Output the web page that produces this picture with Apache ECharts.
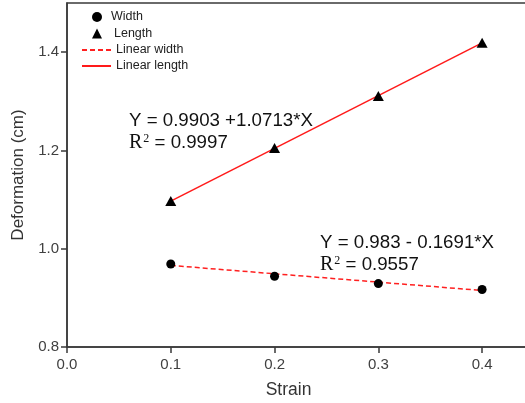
<!DOCTYPE html>
<html>
<head>
<meta charset="utf-8">
<script src="https://cdn.jsdelivr.net/npm/echarts@6/dist/echarts.min.js"></script>
<style>
  html, body { margin: 0; padding: 0; background: #fff; }
  #chart { width: 525px; height: 403px; }
</style>
</head>
<body>
<div id="chart"></div>
<script>
// measured points
const strain = [0.1, 0.2, 0.3, 0.4];
const widthVals = [0.969, 0.944, 0.929, 0.917];
const lengthVals = [1.097, 1.205, 1.311, 1.419];
// fitted lines at the end points
const fitX = [0.1, 0.4];
const widthFit = [0.966, 0.915];
const lengthFit = [1.097, 1.419];

const xTicks = [0, 0.1, 0.2, 0.3, 0.4];
const yTicks = [0.8, 1.0, 1.2, 1.4];

const pairs = (xs, ys) => xs.map((x, i) => [x, ys[i]]);

const chart = echarts.init(document.getElementById('chart'), null, { renderer: 'canvas' });

const axisCol = '#3a3a3a';
const labelCol = '#404040';
const font = 'Liberation Sans, Arial, sans-serif';
const legendText = { fontFamily: font, fontSize: 12.5, color: '#222', lineHeight: 16 };

// R² label: serif R with a raised 2, then the value in sans
const r2Rich = {
  r: { fontFamily: 'Liberation Serif, serif', fontSize: 20, fill: '#111', lineHeight: 22 },
  s: { fontFamily: 'Liberation Serif, serif', fontSize: 12, fill: '#111', lineHeight: 22, verticalAlign: 'top', padding: [1, 0, 0, 1] },
  n: { fontFamily: font, fontSize: 18.7, fill: '#111', lineHeight: 22 },
};

const option = {
  backgroundColor: '#fff',
  animation: false,
  grid: {
    left: 67, top: 3, width: 467, height: 344,
    outerBoundsMode: 'none',
    show: true, borderColor: axisCol, borderWidth: 1.5,
  },
  legend: [
    {
      // point markers
      orient: 'vertical',
      left: 92, top: 9, padding: 0,
      itemWidth: 10, itemHeight: 10, itemGap: 0.5,
      textStyle: Object.assign({ padding: [0, 0, 0, 4] }, legendText),
      data: [
        { name: 'Width', icon: 'circle', itemStyle: { color: '#000', opacity: 1 } },
        { name: 'Length', icon: 'triangle', itemStyle: { color: '#000', opacity: 1 },
          textStyle: { padding: [0, 0, 0, 7] } },
      ],
    },
    {
      // fit lines
      orient: 'vertical',
      left: 81, top: 42, padding: 0,
      itemWidth: 29, itemHeight: 10, itemGap: 0,
      textStyle: Object.assign({ padding: [0, 0, 0, 0] }, legendText),
      data: [
        { name: 'Linear width', itemStyle: { opacity: 0 } },
        { name: 'Linear length', itemStyle: { opacity: 0 } },
      ],
    },
  ],
  xAxis: {
    type: 'value',
    min: 0, max: 0.45, interval: 0.1,
    name: 'Strain', nameLocation: 'middle', nameGap: 34,
    nameTextStyle: { fontFamily: font, fontSize: 17.5, color: '#333', padding: [0, 24, 0, 0] },
    axisLine: { show: true, lineStyle: { color: axisCol, width: 1.5 } },
    axisTick: { show: true, length: 6, inside: false, customValues: xTicks, lineStyle: { color: axisCol, width: 1.5 } },
    axisLabel: {
      customValues: xTicks, margin: 10,
      fontFamily: font, fontSize: 15, color: labelCol,
      formatter: v => v.toFixed(1),
    },
    splitLine: { show: false },
  },
  yAxis: {
    type: 'value',
    min: 0.8, max: 1.5, interval: 0.2,
    name: 'Deformation (cm)', nameLocation: 'middle', nameGap: 40,
    nameTextStyle: { fontFamily: font, fontSize: 17, color: '#333' },
    axisLine: { show: true, lineStyle: { color: axisCol, width: 1.5 } },
    axisTick: { show: true, length: 6, inside: false, customValues: yTicks, lineStyle: { color: axisCol, width: 1.5 } },
    axisLabel: {
      customValues: yTicks, margin: 8,
      fontFamily: font, fontSize: 15, color: labelCol,
      formatter: v => v.toFixed(1),
    },
    splitLine: { show: false },
  },
  series: [
    {
      name: 'Linear width', type: 'line',
      data: pairs(fitX, widthFit),
      symbol: 'none',
      itemStyle: { color: '#ff2020' },
      lineStyle: { color: '#ff2020', width: 1.5, type: [5, 3] },
      z: 2,
    },
    {
      name: 'Linear length', type: 'line',
      data: pairs(fitX, lengthFit),
      symbol: 'none',
      itemStyle: { color: '#ff1a1a' },
      lineStyle: { color: '#ff1a1a', width: 1.5 },
      z: 2,
    },
    {
      name: 'Width', type: 'scatter',
      data: pairs(strain, widthVals),
      symbol: 'circle', symbolSize: 9,
      itemStyle: { color: '#000', opacity: 1 },
      z: 3,
    },
    {
      name: 'Length', type: 'scatter',
      data: pairs(strain, lengthVals),
      symbol: 'triangle', symbolSize: [11, 10],
      itemStyle: { color: '#000', opacity: 1 },
      z: 3,
    },
  ],
  graphic: [
    {
      type: 'text', left: 129, top: 111,
      style: { text: 'Y = 0.9903 +1.0713*X', fontFamily: font, fontSize: 18.7, fill: '#111' },
    },
    {
      type: 'text', left: 129, top: 132,
      style: { text: '{r|R}{s|2}{n| = 0.9997}', fill: '#111', rich: r2Rich },
    },
    {
      type: 'text', left: 320, top: 233,
      style: { text: 'Y = 0.983 - 0.1691*X', fontFamily: font, fontSize: 18.7, fill: '#111' },
    },
    {
      type: 'text', left: 320, top: 254,
      style: { text: '{r|R}{s|2}{n| = 0.9557}', fill: '#111', rich: r2Rich },
    },
  ],
};

chart.setOption(option);
</script>
</body>
</html>
